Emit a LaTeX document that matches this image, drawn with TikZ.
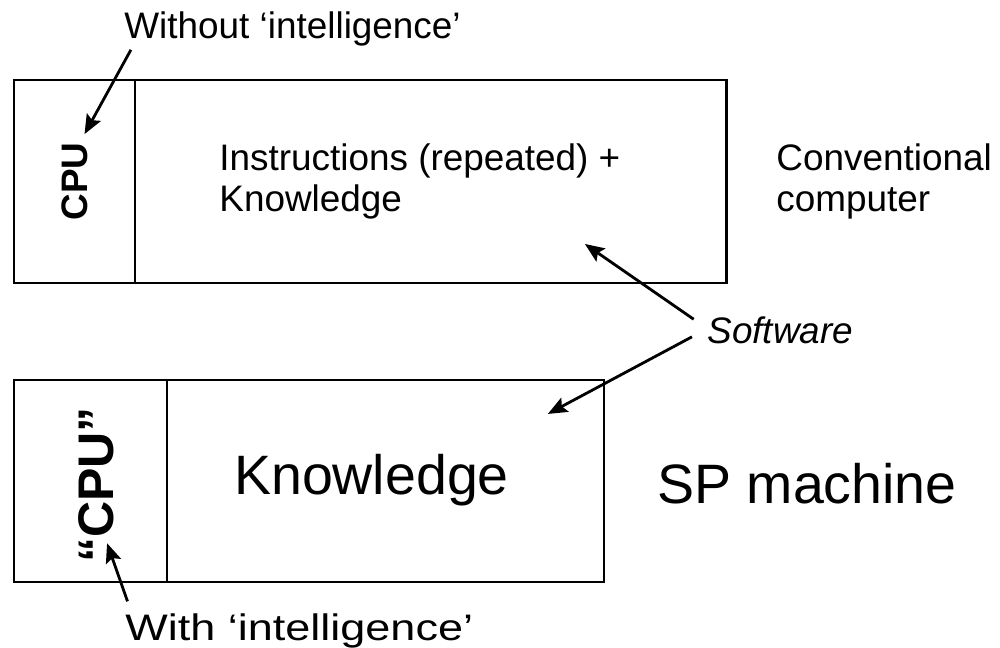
\documentclass[tikz,border=0pt]{standalone}
\usepackage{fontspec}
\setmainfont{Liberation Sans}
\usetikzlibrary{arrows.meta,positioning}

\begin{document}
\begin{tikzpicture}[x=0.02cm,y=-0.02cm,line width=1.6pt,
    >={Stealth[length=11pt,width=9pt,inset=2pt]},
    box/.style={draw,inner sep=0pt,outer sep=0pt},
    lbl/.style={inner sep=0pt,font=\fontsize{21}{23.3}\selectfont},
    big/.style={inner sep=0pt,font=\fontsize{31.6}{36}\selectfont}]

    \useasboundingbox (0,0) rectangle (1000,648);

    % conventional computer
    \node[box,minimum width=2.42cm,minimum height=4.06cm] (cpu1) at (74.5,181.5) {};
    \node[box,minimum width=11.84cm,minimum height=4.06cm] (mem1) [right=0pt of cpu1] {};
    \node[lbl,rotate=90,font=\fontsize{21}{23.3}\selectfont\bfseries] (cpulbl1) at (cpu1) {CPU};
    \node[lbl,align=left,anchor=west] (instr) at (218,181) {Instructions (repeated) +\\Knowledge};
    \node[lbl,align=left,anchor=west] (conv) at (775,181) {Conventional\\computer};
    \node[lbl,anchor=base west] (nointel) at (123,39) {Without `intelligence'};

    % SP machine
    \node[box,minimum width=3.06cm,minimum height=4.04cm] (cpu2) at (90.5,481) {};
    \node[box,minimum width=8.74cm,minimum height=4.04cm] (mem2) [right=0pt of cpu2] {};
    \node[inner sep=0pt,rotate=90,font=\fontsize{28.5}{32}\selectfont\bfseries] (cpulbl2) at (96,485) {``CPU''};
    \node[big,anchor=base] (know) at (371.5,494) {Knowledge};
    \node[big,anchor=base] (sp) at (807,503) {SP machine};
    \node[lbl,anchor=base west] (withintel) at (124,640) {\scalebox{1.22}[1]{With `intelligence'}};

    \node[lbl,anchor=base west,font=\fontsize{21}{23.3}\selectfont\itshape] (soft) at (706,343) {Software};

    \draw[->] ([xshift=4.5pt,yshift=-1pt]nointel.south west) -- ([xshift=5.7pt,yshift=4pt]cpulbl1.east);
    \draw[->] ([xshift=2pt,yshift=6pt]withintel.north west) -- ([xshift=6.3pt,yshift=12pt]cpulbl2.west);
    \draw[->] ([xshift=-7pt,yshift=6pt]soft.west) -- ([xshift=-80.8pt,yshift=22.2pt]mem1.south east);
    \draw[->] ([xshift=-8pt,yshift=-4pt]soft.west) -- ([xshift=-31.9pt,yshift=-19.3pt]mem2.north east);

\end{tikzpicture}
\end{document}
